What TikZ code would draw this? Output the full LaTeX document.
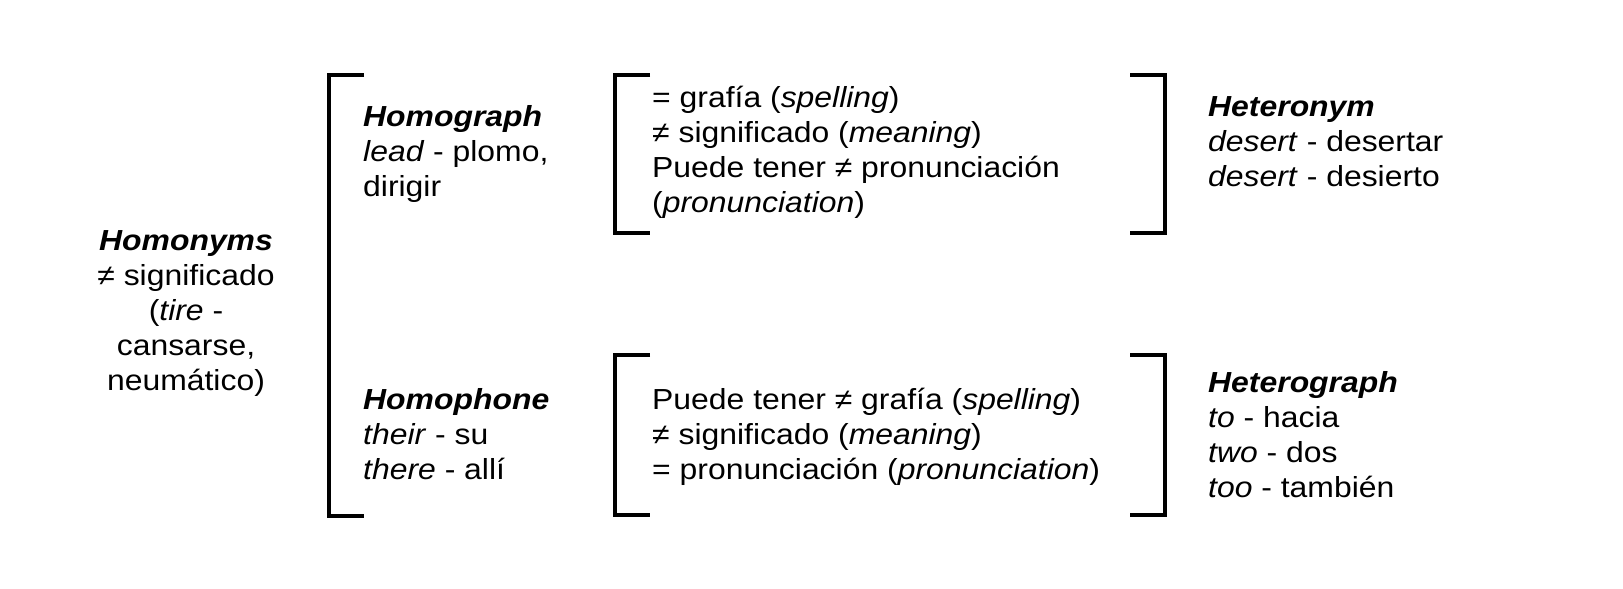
\documentclass[tikz,border=0pt]{standalone}
\usepackage{fontspec}
\setmainfont[FakeStretch=1.1]{Liberation Sans}
\begin{document}
\begin{tikzpicture}[x=1pt,y=-1pt,
  brk/.style={line width=4.5pt, line join=miter},
  txt/.style={anchor=base west, inner sep=0pt, font=\fontsize{29}{35}\selectfont},
  ctxt/.style={anchor=base, inner sep=0pt, font=\fontsize{29}{35}\selectfont}]
\useasboundingbox[fill=white] (0,0) rectangle (1623,589);
% brackets
\draw[brk] (364,75) -- (329,75) -- (329,516) -- (364,516);
\draw[brk] (650,75) -- (615,75) -- (615,233) -- (650,233);
\draw[brk] (1130,75) -- (1165,75) -- (1165,233) -- (1130,233);
\draw[brk] (650,355) -- (615,355) -- (615,515) -- (650,515);
\draw[brk] (1130,355) -- (1165,355) -- (1165,515) -- (1130,515);
% texts
\node[ctxt] (homonyms) at (186,250) {\begin{tabular}[t]{@{}c@{}}\textbf{\textit{Homonyms}}\\ ≠ significado\\ (\textit{tire} -\\ cansarse,\\ neumático)\end{tabular}};
\node[txt] (homograph) at (363,126) {\begin{tabular}[t]{@{}l@{}}\textbf{\textit{Homograph}}\\ \textit{lead} - plomo,\\ dirigir\end{tabular}};
\node[txt] (homophone) at (363,409) {\begin{tabular}[t]{@{}l@{}}\textbf{\textit{Homophone}}\\ \textit{their} - su\\ \textit{there} - allí\end{tabular}};
\node[txt] (graphdef) at (652,107.5) {\begin{tabular}[t]{@{}l@{}}= grafía (\textit{spelling})\\ ≠ significado (\textit{meaning})\\ Puede tener ≠ pronunciación\\ (\textit{pronunciation})\end{tabular}};
\node[txt] (phonedef) at (652,409) {\begin{tabular}[t]{@{}l@{}}Puede tener ≠ grafía (\textit{spelling})\\ ≠ significado (\textit{meaning})\\ = pronunciación (\textit{pronunciation})\end{tabular}};
\node[txt] (heteronym) at (1208,116) {\begin{tabular}[t]{@{}l@{}}\textbf{\textit{Heteronym}}\\ \textit{desert} - desertar\\ \textit{desert} - desierto\end{tabular}};
\node[txt] (heterograph) at (1208,392) {\begin{tabular}[t]{@{}l@{}}\textbf{\textit{Heterograph}}\\ \textit{to} - hacia\\ \textit{two} - dos\\ \textit{too} - también\end{tabular}};
\end{tikzpicture}
\end{document}
